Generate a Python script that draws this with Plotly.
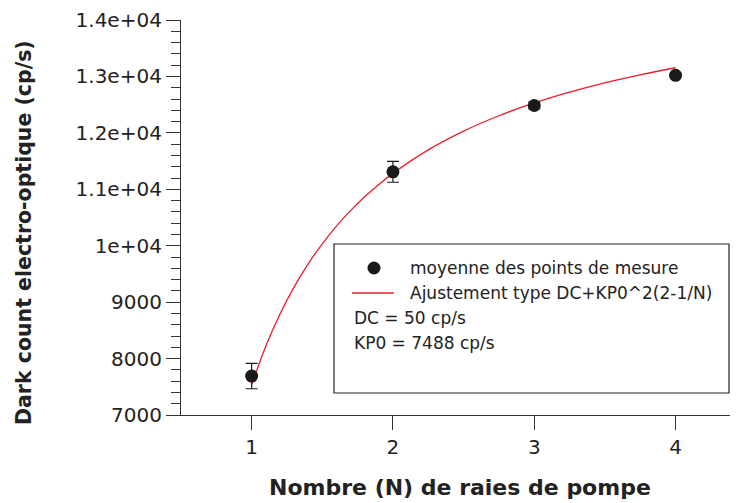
import plotly.graph_objects as go

# Measured data
n_points = [1, 2, 3, 4]
mean_counts = [7690, 11310, 12485, 13020]
err_counts = [225, 185, 60, 0]

# Fit curve (DC + KP0*(2-1/N))
n_fit = [1.0, 1.1, 1.2, 1.3, 1.4, 1.5, 1.6, 1.7, 1.8, 1.9, 2.0, 2.25, 2.5, 2.75, 3.0, 3.25, 3.5, 3.75, 4.0]
fit_counts = [7538, 8219, 8786, 9266, 9677, 10034, 10346, 10621, 10866, 11085, 11282,
              11698, 12031, 12303, 12530, 12722, 12887, 13029, 13154]

x_ticks = [1, 2, 3, 4]
y_tickvals = [7000, 8000, 9000, 10000, 11000, 12000, 13000, 14000]
y_ticktext = ["7000", "8000", "9000", "1e+04", "1.1e+04", "1.2e+04", "1.3e+04", "1.4e+04"]

FONT = "DejaVu Sans"
W, H = 748, 503
OFF = 8  # page body margin
# desired on-screen plot area: x 181..738+, y 20..415
L = 181 - OFF
T = 20 - OFF
R = 0
B = H - (415 - OFF)
PW = W - L - R
PH = H - T - B

def sx(px):
    return (px - OFF - L) / PW

def sy(py):
    return (H - B - (py - OFF)) / PH

fig = go.Figure()
fig.add_trace(go.Scatter(
    x=n_fit, y=fit_counts, mode="lines",
    line=dict(color="#e8202a", width=1.3, shape="spline"),
    showlegend=False, hoverinfo="skip"))
fig.add_trace(go.Scatter(
    x=n_points, y=mean_counts, mode="markers",
    marker=dict(color="#1a1a1a", size=13),
    error_y=dict(type="data", array=err_counts, visible=True, color="#1a1a1a", thickness=1.2, width=6),
    showlegend=False))

shapes = [
    dict(type="rect", xref="paper", yref="paper",
         x0=sx(334), x1=sx(729), y0=sy(393), y1=sy(244),
         line=dict(color="#222", width=1.2), fillcolor="white", layer="above"),
    dict(type="circle", xref="paper", yref="paper",
         x0=sx(367.5), x1=sx(380.5), y0=sy(274.5), y1=sy(261.5),
         fillcolor="#1a1a1a", line=dict(color="#1a1a1a", width=0), layer="above"),
    dict(type="line", xref="paper", yref="paper",
         x0=sx(352), x1=sx(394), y0=sy(293), y1=sy(293),
         line=dict(color="#e8202a", width=1.3), layer="above"),
]
legend_texts = [
    (408, 268, "moyenne des points de mesure"),
    (408, 293, "Ajustement type DC+KP0^2(2-1/N)"),
    (352, 318, "DC = 50 cp/s"),
    (352, 343, "KP0 = 7488 cp/s"),
]
annotations = []
for xpx, ypx, txt in legend_texts:
    annotations.append(dict(xref="paper", yref="paper", x=sx(xpx), y=sy(ypx),
                            text=txt, showarrow=False, xanchor="left", yanchor="middle",
                            font=dict(family=FONT, size=17, color="#222")))
annotations.append(dict(xref="paper", yref="paper", x=sx(460), y=sy(487),
                        text="<b>Nombre (N) de raies de pompe</b>", showarrow=False,
                        xanchor="center", yanchor="middle",
                        font=dict(family=FONT, size=22, color="#222")))
annotations.append(dict(xref="paper", yref="paper", x=sx(24), y=sy(233),
                        text="<b>Dark count electro-optique (cp/s)</b>", showarrow=False,
                        textangle=-90, xanchor="center", yanchor="middle",
                        font=dict(family=FONT, size=20.5, color="#222")))

fig.update_layout(
    width=W, height=H,
    margin=dict(l=L, r=R, t=T, b=B, autoexpand=False),
    plot_bgcolor="white", paper_bgcolor="white",
    font=dict(family=FONT, size=20, color="#222"),
    shapes=shapes, annotations=annotations,
    xaxis=dict(range=[0.5, 0.5 + PW / 141.3], tickvals=x_ticks, automargin=False,
               showgrid=False, zeroline=False, showline=True, linecolor="#333", linewidth=1.2,
               ticks="outside", ticklen=14, tickcolor="#333", tickwidth=1.2,
               tickfont=dict(family=FONT, size=20, color="#222")),
    yaxis=dict(range=[7000, 14000], tickmode="array", tickvals=y_tickvals, ticktext=y_ticktext,
               automargin=False,
               showgrid=False, zeroline=False, showline=True, linecolor="#333", linewidth=1.2,
               ticks="outside", ticklen=14, tickcolor="#333", tickwidth=1.2,
               tickfont=dict(family=FONT, size=20, color="#222"),
               minor=dict(ticks="outside", ticklen=9, tick0=7000, dtick=200, tickcolor="#333", showgrid=False)),
)

fig.write_html("out.html")
